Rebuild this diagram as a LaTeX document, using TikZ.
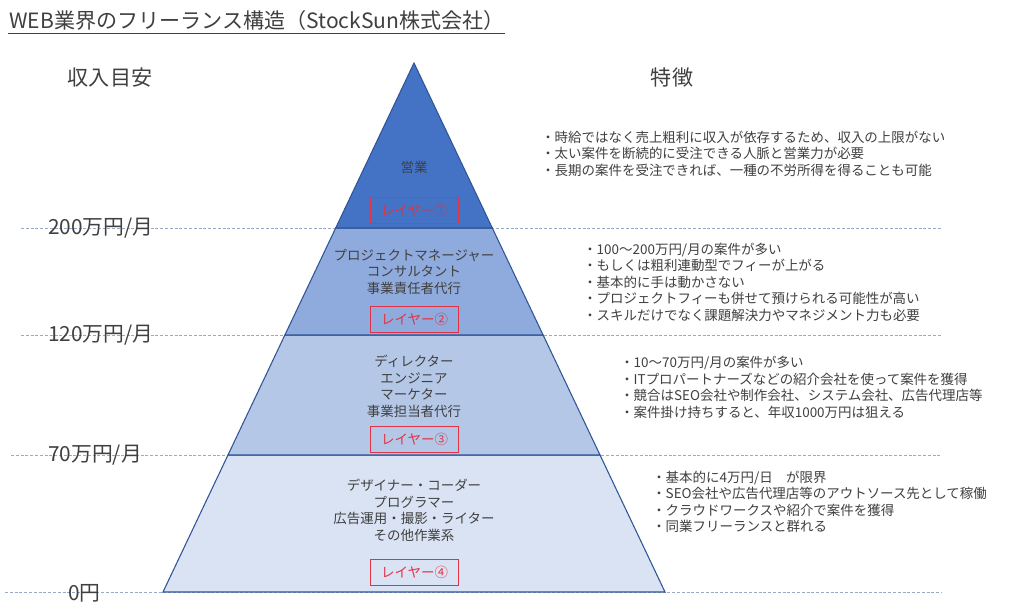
\documentclass[tikz,border=0pt]{standalone}
\usepackage{fontspec}
\setmainfont{Noto Sans CJK JP}
\definecolor{lA}{HTML}{4472C4}
\definecolor{lB}{HTML}{8FAADC}
\definecolor{lC}{HTML}{B4C7E7}
\definecolor{lD}{HTML}{DAE3F3}
\definecolor{edge}{HTML}{2F5597}
\definecolor{txt}{HTML}{404040}
\definecolor{redc}{HTML}{E03446}
\definecolor{dashc}{HTML}{9AAAC4}
\begin{document}
\begin{tikzpicture}[x=0.75pt,y=-0.75pt,
  layer/.style={draw=edge,line width=0.8pt,line join=miter},
  guide/.style={draw=dashc,line width=0.6pt,dash pattern=on 2.2pt off 1.4pt},
  ptext/.style={font=\fontsize{10.1}{12.4}\selectfont,text=txt,align=center,inner sep=0pt},
  rtext/.style={font=\fontsize{10.1}{12.4}\selectfont,text=txt,align=left,inner sep=0pt,anchor=west},
  redbox/.style={draw=redc,line width=0.6pt,text=redc,minimum width=66pt,minimum height=19.5pt,inner sep=0pt,font=\fontsize{10.1}{12}\selectfont},
  axis/.style={font=\fontsize{15.6}{18}\selectfont,text=txt,inner sep=0pt},
  head/.style={font=\fontsize{15.8}{18}\selectfont,text=txt,inner sep=0pt}]
\useasboundingbox (0,0) rectangle (1024,616);
\fill[white] (0,0) rectangle (1024,616);
% title
\node[font=\fontsize{15.8}{19}\selectfont,text=txt,inner sep=0pt,anchor=base west] (title) at (9,28.5) {WEB業界のフリーランス構造（StockSun株式会社）};
\coordinate (ulS) at (8,33.5);
\coordinate (ulE) at (505,33.5);
\draw[txt,line width=0.8pt] (ulS) -- (ulE);
% headers
\node[head] (hinc) at (110,78) {収入目安};
\node[head] (hfeat) at (672,78) {特徴};
% guide lines
\coordinate (g1s) at (21,228);  \coordinate (g1e) at (942,228);
\coordinate (g2s) at (21,335);  \coordinate (g2e) at (942,335);
\coordinate (g3s) at (11,455);  \coordinate (g3e) at (942,455);
\coordinate (g4s) at (5,592);   \coordinate (g4e) at (942,592);
\draw[guide] (g1s) -- (g1e);
\draw[guide] (g2s) -- (g2e);
\draw[guide] (g3s) -- (g3e);
\draw[guide] (g4s) -- (g4e);
% axis labels
\node[axis,anchor=west] (v200) at (48,228) {200万円/月};
\node[axis,anchor=west] (v120) at (48,335) {120万円/月};
\node[axis,anchor=west] (v70) at (48,455) {70万円/月};
\node[axis,anchor=west] (v0) at (68,593) {0円};
% pyramid
\coordinate (apex) at (414,63);
\coordinate (a1l) at (335.7,228); \coordinate (a1r) at (492.3,228);
\coordinate (a2l) at (284.9,335); \coordinate (a2r) at (543.1,335);
\coordinate (a3l) at (228.0,455); \coordinate (a3r) at (600.0,455);
\coordinate (a4l) at (163.0,592); \coordinate (a4r) at (665.0,592);
\filldraw[layer,fill=lD] (a3l) -- (a3r) -- (a4r) -- (a4l) -- cycle;
\filldraw[layer,fill=lC] (a2l) -- (a2r) -- (a3r) -- (a3l) -- cycle;
\filldraw[layer,fill=lB] (a1l) -- (a1r) -- (a2r) -- (a2l) -- cycle;
\filldraw[layer,fill=lA] (apex) -- (a1r) -- (a1l) -- cycle;
% pyramid texts
\node[ptext] (t1) at (414,167) {営業};
\node[redbox] (r1) at (414.5,210) {レイヤー①};
\node[ptext] (t2) at (414,271.5) {プロジェクトマネージャー\\コンサルタント\\事業責任者代行};
\node[redbox] (r2) at (414.5,319) {レイヤー②};
\node[ptext] (t3) at (414,386.5) {ディレクター\\エンジニア\\マーケター\\事業担当者代行};
\node[redbox] (r3) at (414.5,439) {レイヤー③};
\node[ptext] (t4) at (414,510.5) {デザイナー・コーダー\\プログラマー\\広告運用・撮影・ライター\\その他作業系};
\node[redbox] (r4) at (414.5,572) {レイヤー④};
% features
\node[rtext] (f1) at (541,153.5) {・時給ではなく売上粗利に収入が依存するため、収入の上限がない\\・太い案件を断続的に受注できる人脈と営業力が必要\\・長期の案件を受注できれば、一種の不労所得を得ることも可能};
\node[rtext] (f2) at (583,282) {・100〜200万円/月の案件が多い\\・もしくは粗利連動型でフィーが上がる\\・基本的に手は動かさない\\・プロジェクトフィーも併せて預けられる可能性が高い\\・スキルだけでなく課題解決力やマネジメント力も必要};
\node[rtext] (f3) at (620,387.5) {・10〜70万円/月の案件が多い\\・ITプロパートナーズなどの紹介会社を使って案件を獲得\\・競合はSEO会社や制作会社、システム会社、広告代理店等\\・案件掛け持ちすると、年収1000万円は狙える};
\node[rtext] (f4) at (652,502) {・基本的に4万円/日　が限界\\・SEO会社や広告代理店等のアウトソース先として稼働\\・クラウドワークスや紹介で案件を獲得\\・同業フリーランスと群れる};
\end{tikzpicture}
\end{document}
